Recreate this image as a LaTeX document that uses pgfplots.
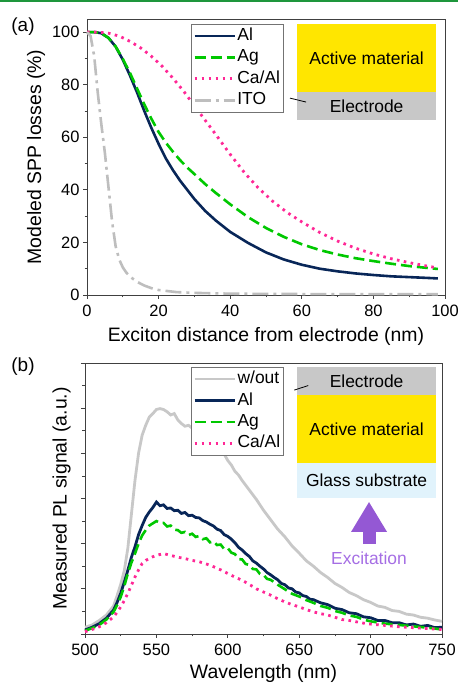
\documentclass[border=0pt]{standalone}
\usepackage{fontspec}
\setmainfont{Liberation Sans}
\usepackage{pgfplots}
\pgfplotsset{compat=1.18}

\definecolor{navy}{RGB}{8,38,88}
\definecolor{agg}{RGB}{0,200,0}
\definecolor{capink}{RGB}{255,40,150}
\definecolor{itogray}{RGB}{190,190,190}
\definecolor{wogray}{RGB}{200,200,200}
\definecolor{actyellow}{RGB}{255,230,0}
\definecolor{elgray}{RGB}{200,200,200}
\definecolor{glassblue}{RGB}{225,243,252}
\definecolor{excpurple}{RGB}{148,88,212}
\definecolor{exctext}{RGB}{165,110,228}
\definecolor{topgreen}{RGB}{30,150,60}

\tikzset{boxtext/.style={font=\fontsize{17.5}{19}\selectfont}}
\pgfplotsset{
  legend image code/.code={\draw[#1, line width=2.7bp] (0bp,0bp) -- (40bp,0bp);},
  panel/.style={
    scale only axis, clip=false,
    axis line style={black!75, line width=0.9bp},
    tick style={black!75, line width=0.8bp},
    tick align=outside, xtick pos=bottom, ytick pos=left,
    major tick length=4bp, minor tick length=2.5bp,
    minor tick num=1,
    /pgf/number format/assume math mode=true,
    tick label style={font=\fontsize{16.5}{18}\selectfont},
    xticklabel style={yshift=-3bp},
    label style={font=\fontsize{19.5}{22}\selectfont},
    legend cell align=left,
    legend style={font=\fontsize{17.5}{19}\selectfont, draw=black!55,
      line width=0.7bp, inner xsep=2bp, inner ysep=1bp, row sep=0bp,
      nodes={text height=13bp, text depth=4bp, inner ysep=2.2bp, inner xsep=1.5bp},
      anchor=north west},
  },
}

\begin{document}
\begin{tikzpicture}[x=1bp,y=1bp]
\useasboundingbox (0,0) rectangle (458,685);
\draw[topgreen, line width=1.6bp] (0,684) -- (458,684);
\coordinate (topSW) at (87,390);
\coordinate (botSW) at (85,51);

% (a) modeled SPP losses
\begin{axis}[panel, at={(topSW)}, anchor=south west,
  width=358bp, height=276bp,
  xmin=0, xmax=100, ymin=0, ymax=105,
  xtick={0,20,...,100}, ytick={0,20,...,100},
  xlabel={Exciton distance from electrode (nm)},
  xlabel style={yshift=-3bp},
  ylabel={Modeled SPP losses (\%)},
  legend style={at={(0.29,0.982)}},
]
\addplot[navy, line width=2.6bp] coordinates {
(0,100) (2,100) (4,99.6) (6,97.8) (8,94.5) (10,89.5) (12,83.5) (14,77)
(16,70) (18,63.5) (20,57.5) (22,52) (24,47.5) (26,43.5) (28,40) (30,36.5)
(33,32) (36,28.3) (40,24) (45,19.8) (50,16.2) (55,13.5) (60,11.5) (65,10)
(70,9) (75,8.2) (80,7.6) (85,7.1) (90,6.8) (95,6.5) (98,6.3)};
\addlegendentry{Al}
\addplot[agg, line width=2.6bp, dash pattern=on 11bp off 5bp] coordinates {
(0,100) (2,100) (4,99.6) (6,97.8) (8,94.5) (10,89.8) (12,84.5) (14,78.5)
(16,72.5) (18,67) (20,62) (22,58) (24,54.5) (26,51.3) (28,48.5) (30,46)
(33,42.2) (36,38.8) (40,34.5) (45,29.6) (50,25.5) (55,22.1) (60,19.3)
(65,17.1) (70,15.4) (75,14) (80,12.9) (85,11.9) (90,11) (95,10.3) (98,9.9)};
\addlegendentry{Ag}
\addplot[capink, line width=2.8bp, dash pattern=on 2.6bp off 4.4bp] coordinates {
(0,100) (3,100) (6,99.6) (9,98.5) (12,96.5) (15,94) (18,90.8) (21,87)
(24,82.5) (27,77.5) (30,72) (33,66.5) (36,61) (40,53.5) (44,46.5) (48,40.5)
(52,35.5) (56,31.3) (60,27.8) (65,23.8) (70,20.5) (75,17.8) (80,15.6)
(85,13.8) (90,12.3) (95,11) (98,10.3)};
\addlegendentry{Ca/Al}
\addplot[itogray, line width=2.6bp, dash pattern=on 16bp off 5bp on 3bp off 5bp] coordinates {
(0,100) (1,98.5) (2,91) (3,77) (4,65) (5,54) (6,41) (7,28) (8,18.5)
(9,13.5) (10,10.5) (11,8.5) (12,7) (14,5) (16,3.6) (18,2.6) (20,1.9)
(25,1.1) (30,0.8) (40,0.5) (60,0.35) (98,0.3)};
\addlegendentry{ITO}
\fill[actyellow] (axis cs:58.7,103) rectangle (axis cs:97.5,77.2);
\fill[elgray] (axis cs:58.7,77.2) rectangle (axis cs:97.5,66.5);
\node[boxtext] at (axis cs:78.1,90.1) {Active material};
\node[boxtext] at (axis cs:78.1,71.8) {Electrode};
\draw[black, line width=0.8bp] (axis cs:56.7,74.9) -- (axis cs:61.2,73.4);
\end{axis}
\node[font=\fontsize{19}{21}\selectfont] at (23,658) {(a)};

% (b) measured PL
\begin{axis}[panel, at={(botSW)}, anchor=south west,
  width=357bp, height=271bp,
  xmin=500, xmax=750, ymin=0, ymax=6,
  xtick={500,550,...,750}, ytick={0,1,...,6}, yticklabels={},
  xlabel={Wavelength (nm)},
  xlabel style={yshift=-1bp},
  ylabel={Measured PL signal (a.u.)},
  legend style={at={(0.297,0.985)}},
]
\addplot[wogray, line width=2.8bp] coordinates {
(500,0.15) (505,0.2) (510,0.3) (515,0.42) (520,0.62) (522.5,0.85) (525,1.1)
(527.5,1.4) (530,1.9) (532.5,2.65) (535,3.4) (537.5,4.0) (540,4.4)
(542.5,4.62) (545,4.8) (547.5,4.88) (550,4.97) (552.5,4.99) (555,4.97)
(557.5,4.92) (560,4.85) (562.5,4.88) (565,4.74) (567.5,4.66) (570,4.6)
(572.5,4.62) (575,4.56) (577.5,4.62) (580,4.53) (582.5,4.5) (585,4.44)
(587.5,4.4) (590,4.28) (592.5,4.2) (595,4.04) (597.5,3.98) (600,3.84)
(602.5,3.74) (605,3.6) (607.5,3.52) (610,3.4) (615,3.19) (620,2.98)
(625,2.74) (630,2.53) (635,2.32) (640,2.15) (645,1.95) (650,1.79)
(655,1.62) (660,1.5) (665,1.36) (670,1.25) (675,1.12) (680,1.03)
(685,0.92) (690,0.85) (695,0.76) (700,0.7) (705,0.62) (710,0.59)
(715,0.52) (720,0.5) (725,0.44) (730,0.42) (735,0.37) (740,0.35)
(745,0.31) (750,0.28)};
\addlegendentry{w/out}
\addplot[navy, line width=2.8bp] coordinates {
(500,0.09) (505,0.15) (510,0.23) (515,0.35) (520,0.53) (522.5,0.7)
(525,0.9) (527.5,1.15) (530,1.41) (532.5,1.7) (535,1.93) (537.5,2.2)
(540,2.4) (542.5,2.58) (545,2.7) (547.5,2.8) (550,2.92) (552.5,2.84)
(555,2.86) (557.5,2.78) (560,2.79) (562.5,2.73) (565,2.74) (567.5,2.67)
(570,2.69) (572.5,2.62) (575,2.63) (577.5,2.58) (580,2.57) (582.5,2.51)
(585,2.48) (587.5,2.43) (590,2.39) (592.5,2.32) (595,2.29) (597.5,2.2)
(600,2.16) (602.5,2.1) (605,2.02) (607.5,1.92) (610,1.86) (612.5,1.78)
(615,1.72) (617.5,1.62) (620,1.57) (622.5,1.5) (625,1.44) (627.5,1.36)
(630,1.31) (632.5,1.25) (635,1.2) (637.5,1.12) (640,1.09) (642.5,1.02)
(645,1.0) (647.5,0.93) (650,0.91) (652.5,0.85) (655,0.83) (657.5,0.77)
(660,0.76) (665,0.69) (670,0.65) (675,0.57) (680,0.54) (685,0.47)
(690,0.45) (695,0.38) (700,0.36) (705,0.3) (710,0.3) (715,0.25)
(720,0.25) (725,0.2) (730,0.22) (735,0.17) (740,0.19) (745,0.14) (750,0.15)};
\addlegendentry{Al}
\addplot[agg, line width=2.6bp, dash pattern=on 11bp off 5bp] coordinates {
(500,0.07) (505,0.13) (510,0.2) (515,0.32) (520,0.49) (522.5,0.64)
(525,0.82) (527.5,1.06) (530,1.34) (532.5,1.58) (535,1.78) (537.5,2.0)
(540,2.18) (542.5,2.3) (545,2.4) (547.5,2.45) (550,2.5) (552.5,2.46)
(555,2.46) (557.5,2.38) (560,2.4) (562.5,2.31) (565,2.3) (567.5,2.24)
(570,2.26) (572.5,2.19) (575,2.22) (577.5,2.15) (580,2.17) (582.5,2.1)
(585,2.12) (587.5,2.03) (590,2.05) (592.5,1.97) (595,1.98) (597.5,1.88)
(600,1.9) (602.5,1.8) (605,1.77) (607.5,1.66) (610,1.65) (612.5,1.55)
(615,1.53) (617.5,1.44) (620,1.43) (622.5,1.33) (625,1.31) (627.5,1.22)
(630,1.2) (635,1.09) (640,0.99) (645,0.89) (650,0.83) (655,0.75)
(660,0.69) (665,0.62) (670,0.58) (675,0.51) (680,0.47) (685,0.41)
(690,0.38) (695,0.32) (700,0.28) (710,0.23) (720,0.2) (730,0.17)
(740,0.14) (750,0.1)};
\addlegendentry{Ag}
\addplot[capink, line width=2.8bp, dash pattern=on 2.6bp off 4.4bp] coordinates {
(500,0.05) (505,0.1) (510,0.16) (515,0.25) (520,0.38) (522.5,0.48)
(525,0.6) (527.5,0.74) (530,0.9) (532.5,1.08) (535,1.26) (537.5,1.42)
(540,1.56) (542.5,1.63) (545,1.67) (547.5,1.71) (550,1.74) (555,1.78)
(560,1.74) (565,1.7) (570,1.67) (575,1.63) (580,1.6) (585,1.55)
(590,1.49) (595,1.42) (600,1.34) (605,1.26) (610,1.19) (615,1.1)
(620,1.0) (625,0.93) (630,0.86) (635,0.78) (640,0.71) (645,0.65)
(650,0.6) (655,0.54) (660,0.49) (665,0.45) (670,0.42) (675,0.37)
(680,0.32) (685,0.3) (690,0.27) (695,0.24) (700,0.22) (710,0.19)
(720,0.16) (730,0.14) (740,0.12) (750,0.1)};
\addlegendentry{Ca/Al}
\fill[elgray] (axis cs:648.5,5.91) rectangle (axis cs:745.8,5.29);
\fill[actyellow] (axis cs:648.5,5.29) rectangle (axis cs:745.8,3.79);
\fill[glassblue] (axis cs:648.5,3.79) rectangle (axis cs:745.8,3.01);
\node[boxtext] at (axis cs:697.2,5.6) {Electrode};
\node[boxtext] at (axis cs:697.2,4.54) {Active material};
\node[boxtext] at (axis cs:697.2,3.4) {Glass substrate};
\draw[black, line width=0.8bp] (axis cs:646.5,5.4) -- (axis cs:656.3,5.5);
\fill[excpurple] (axis cs:686.3,2.26) -- (axis cs:698.9,2.92) -- (axis cs:711.5,2.26) -- cycle;
\fill[excpurple] (axis cs:694.7,2.27) rectangle (axis cs:703.8,1.99);
\node[boxtext, text=exctext] at (axis cs:698.9,1.68) {Excitation};
\end{axis}
\node[font=\fontsize{19}{21}\selectfont] at (23,318) {(b)};
\end{tikzpicture}
\end{document}
